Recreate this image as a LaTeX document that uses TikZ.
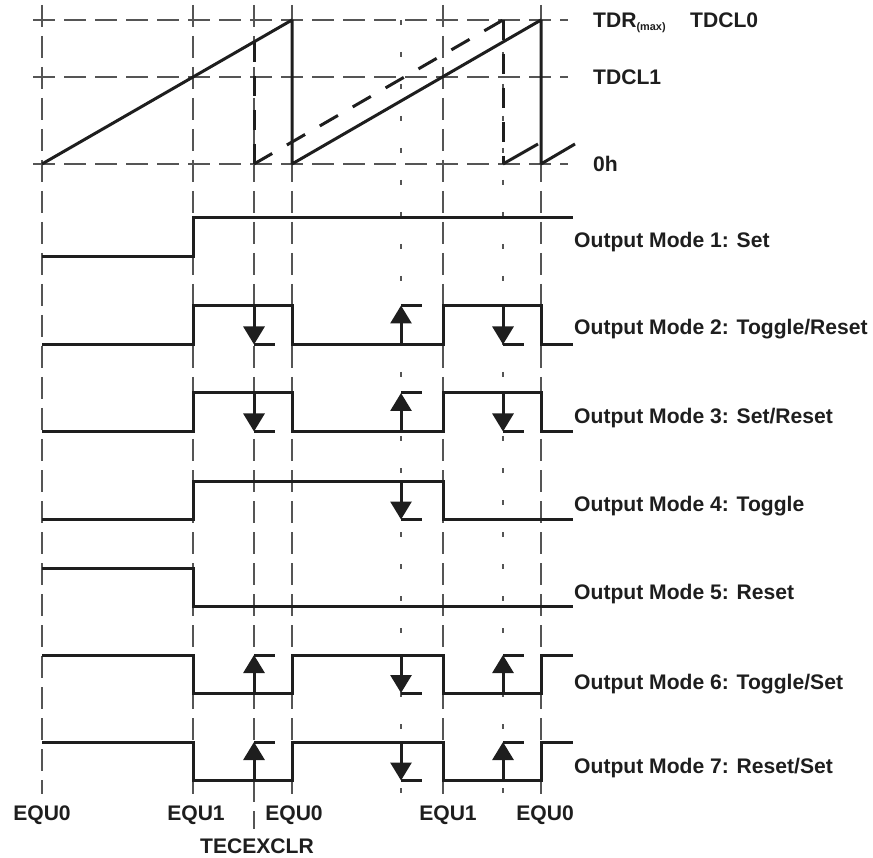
\documentclass[tikz,border=0pt]{standalone}
\usepackage{fontspec}
\setmainfont{Liberation Sans}
\usetikzlibrary{arrows.meta}
\definecolor{gridc}{HTML}{555555}
\definecolor{sigc}{HTML}{1E1E1E}
\tikzset{
  sig/.style={line width=3pt, draw=sigc, line join=miter, line cap=butt},
  ramp/.style={sig, line join=bevel},
  dramp/.style={ramp, dash pattern=on 21pt off 17pt},
  dvert/.style={sig, dash pattern=on 20pt off 14pt},
  gridl/.style={line width=1.1pt, draw=gridc, dash pattern=on 22pt off 9pt},
  gridsp/.style={line width=1.1pt, draw=gridc, dash pattern=on 5pt off 27pt},
  tipd/.style={-{Triangle[width=21pt,length=18pt]}},
  lbl/.style={font=\fontsize{21.1}{24}\selectfont\bfseries, text=sigc, inner sep=0pt, anchor=base west},
  blbl/.style={lbl, anchor=base},
}
\newcommand{\myDn}[3]{% x, high, low
  \draw[sig,tipd] (#1,#2) -- (#1,#3);
  \draw[sig] (#1,#3) -- ++(21,0);}
\newcommand{\myUp}[3]{% x, high, low
  \draw[sig,tipd] (#1,#3) -- (#1,#2);
  \draw[sig] (#1,#2) -- ++(21,0);}
\newcommand{\rowA}[2]{% toggle/reset type
  \draw[sig] (42,#2) -- (193,#2) -- (193,#1) -- (292,#1) -- (292,#2) -- (443,#2) -- (443,#1) -- (541,#1) -- (541,#2) -- (573,#2);
  \myDn{254}{#1}{#2}\myUp{401}{#1}{#2}\myDn{503}{#1}{#2}}
\newcommand{\rowB}[2]{% toggle/set type
  \draw[sig] (42,#1) -- (193,#1) -- (193,#2) -- (292,#2) -- (292,#1) -- (443,#1) -- (443,#2) -- (541,#2) -- (541,#1) -- (573,#1);
  \myUp{254}{#1}{#2}\myDn{401}{#1}{#2}\myUp{503}{#1}{#2}}
\begin{document}
\begin{tikzpicture}[x=1pt,y=-1pt]
\useasboundingbox (0,0) rectangle (873,858);
% grid
\foreach \yy in {20,77,164} \draw[gridl] (33,\yy) -- (568,\yy);
\foreach \xx in {42,193,292,443,541} \draw[gridl] (\xx,5) -- (\xx,794);
\draw[gridl] (254,5) -- (254,829);
\draw[gridsp] (401,20) -- (401,795);
\draw[gridsp] (503,20) -- (503,795);
% counter ramps
\draw[ramp] (42,164) -- (292,20) -- (292,164) -- (541,20) -- (541,164) -- (575,144);
\draw[dvert] (254,42) -- (254,164);
\draw[dramp] (254,164) -- (503,20);
\draw[dvert] (503,20) -- (503,164);
\draw[sig] (503,164) -- (538,144);
% outputs
\draw[sig] (42,256.5) -- (193,256.5) -- (193,218) -- (573,218);
\rowA{305.5}{344.5}
\rowA{393}{431.5}
\draw[sig] (42,519.5) -- (193,519.5) -- (193,481) -- (443,481) -- (443,519.5) -- (573,519.5);
\myDn{401}{481}{519.5}
\draw[sig] (42,568) -- (193,568) -- (193,606) -- (573,606);
\rowB{655}{693}
\rowB{742}{780.5}
% labels
\node[lbl] (tdr) at (593,28) {TDR\raisebox{-3pt}{\fontsize{10.9}{12}\selectfont (max)}};
\node[lbl] (tdcl0) at (690,28) {TDCL0};
\node[lbl] (tdcl1) at (593,85) {TDCL1};
\node[lbl] (zero) at (593,172) {0h};
\node[lbl] (m1) at (574,248) {Output Mode 1: Set};
\node[lbl] (m2) at (574,335) {Output Mode 2: Toggle/Reset};
\node[lbl] (m3) at (574,424) {Output Mode 3: Set/Reset};
\node[lbl] (m4) at (574,511.5) {Output Mode 4: Toggle};
\node[lbl] (m5) at (574,599.5) {Output Mode 5: Reset};
\node[lbl] (m6) at (574,689.5) {Output Mode 6: Toggle/Set};
\node[lbl] (m7) at (574,773) {Output Mode 7: Reset/Set};
\node[blbl] (e0a) at (42,820) {EQU0};
\node[blbl] (e1a) at (196,820) {EQU1};
\node[blbl] (e0b) at (294,820) {EQU0};
\node[blbl] (e1b) at (448,820) {EQU1};
\node[blbl] (e0c) at (545,820) {EQU0};
\node[blbl] (tec) at (257,853) {TECEXCLR};
\end{tikzpicture}
\end{document}
